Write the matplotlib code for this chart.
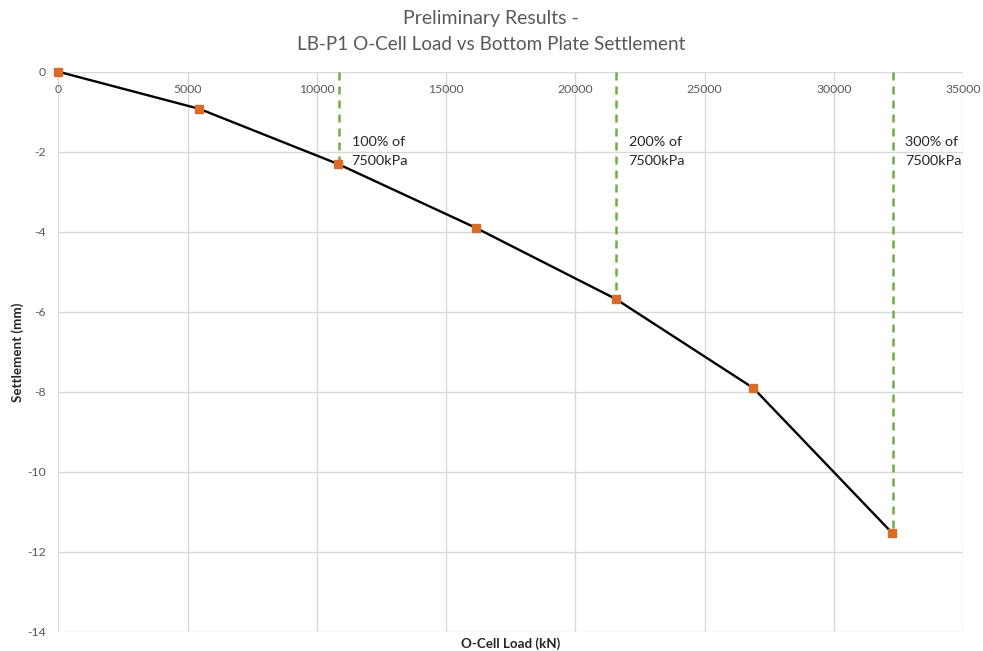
import matplotlib
matplotlib.use("Agg")
import matplotlib.pyplot as plt

plt.rcParams['font.family'] = ['Lato', 'DejaVu Sans']

# O-Cell test readings
load_kn = [0, 5460, 10830, 16140, 21560, 26890, 32240]
settlement_mm = [0, -0.93, -2.31, -3.90, -5.68, -7.91, -11.52]

# Reference loads for percentages of the 7500 kPa design pressure
ref_loads = [10860, 21575, 32280]
ref_labels = ["100% of\n7500kPa", "200% of\n7500kPa", "300% of\n7500kPa"]

x_ticks = [0, 5000, 10000, 15000, 20000, 25000, 30000, 35000]
y_ticks = [0, -2, -4, -6, -8, -10, -12, -14]

fig = plt.figure(figsize=(9.83, 6.51), dpi=100)
ax = fig.add_axes([0.0593, 0.0296, 0.9204, 0.8603])

ax.set_xlim(0, 35000)
ax.set_ylim(-14, 0)
ax.set_xticks(x_ticks)
ax.set_yticks(y_ticks)
ax.set_xticklabels([str(v) for v in x_ticks])
ax.set_yticklabels([str(v) for v in y_ticks])

ax.grid(True, color='#d9d9d9', linewidth=1.0)
ax.set_axisbelow(True)
for s in ax.spines.values():
    s.set_visible(False)

ax.tick_params(axis='x', top=False, bottom=False, labeltop=True, labelbottom=False,
               length=0, pad=-17, labelsize=8.8, labelcolor='#595959')
ax.tick_params(axis='y', left=False, length=0, pad=9, labelsize=8.8, labelcolor='#595959')

# dashed reference lines from zero to the matching reading
for xr, lab in zip(ref_loads, ref_labels):
    idx = min(range(len(load_kn)), key=lambda i: abs(load_kn[i] - xr))
    ax.plot([xr, xr], [0, settlement_mm[idx]], color='#70ad47', linewidth=1.8,
            linestyle=(0, (3.2, 2.4)), zorder=2)
    ax.annotate(lab, xy=(xr, -2.0), xytext=(9, 0), textcoords='offset points',
                ha='left', va='center', fontsize=10.4, color='#262626', linespacing=1.7)

ax.plot(load_kn, settlement_mm, color='black', linewidth=1.7, marker='s',
        markersize=6, markerfacecolor='#d86b28', markeredgecolor='#d86b28',
        zorder=3, clip_on=False)

fig.text(0.4995, 0.972, "Preliminary Results -", ha='center', va='center',
         fontsize=14, color='#595959')
fig.text(0.4995, 0.932, "LB-P1 O-Cell Load vs Bottom Plate Settlement", ha='center',
         va='center', fontsize=13.6, color='#595959')

fig.text(0.519, 0.012, "O-Cell Load (kN)", ha='center', va='center', fontsize=9.6,
         fontweight='bold', color='#262626')
fig.text(0.018, 0.459, "Settlement (mm)", ha='center', va='center', rotation=90,
         fontsize=9.6, fontweight='bold', color='#262626')

fig.savefig("out.png", dpi=100)
